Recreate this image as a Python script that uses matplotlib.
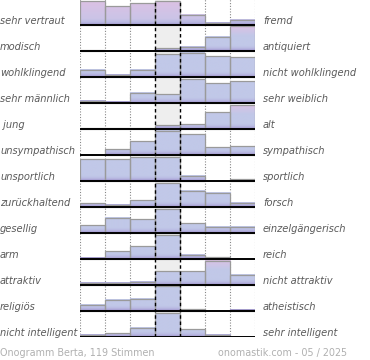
import numpy as np
import matplotlib
matplotlib.use("Agg")
import matplotlib.pyplot as plt
from matplotlib.colors import LinearSegmentedColormap
from matplotlib.patches import Rectangle

left_labels = ["sehr vertraut", "modisch", "wohlklingend", "sehr männlich", " jung",
               "unsympathisch", "unsportlich", "zurückhaltend", "gesellig", "arm",
               "attraktiv", "religiös", "nicht intelligent"]
right_labels = ["fremd", "antiquiert", "nicht wohlklingend", "sehr weiblich", "alt",
                "sympathisch", "sportlich", "forsch", "einzelgängerisch", "reich",
                "nicht attraktiv", "atheistisch", "sehr intelligent"]

# bar heights per row (percent of full row height), 7 columns each
row_vertraut = [96, 75, 87, 96, 41, 9, 21]
row_modisch = [4, 0, 0, 12, 17, 57, 99]
row_klang = [29, 9, 29, 91, 97, 84, 80]
row_geschlecht = [9, 5, 41, 36, 96, 79, 87]
row_alter = [2, 2, 2, 14, 20, 67, 96]
row_sympathie = [0, 23, 55, 97, 83, 31, 35]
row_sport = [88, 88, 96, 96, 22, 0, 8]
row_forsch = [15, 9, 27, 96, 65, 57, 17]
row_gesellig = [31, 61, 55, 96, 39, 25, 25]
row_reich = [5, 32, 51, 96, 17, 7, 0]
row_attraktiv = [9, 9, 13, 55, 56, 97, 41]
row_religion = [25, 45, 49, 100, 8, 0, 5]
row_intelligenz = [9, 15, 37, 95, 32, 9, 0]
rows = [row_vertraut, row_modisch, row_klang, row_geschlecht, row_alter,
        row_sympathie, row_sport, row_forsch, row_gesellig, row_reich,
        row_attraktiv, row_religion, row_intelligenz]

footer_left = "Onogramm Berta, 119 Stimmen"
footer_right = "onomastik.com - 05 / 2025"

# styling: gradient variants per row
purple = (155/255, 142/255, 200/255)
lowblue = (185/255, 185/255, 226/255)
blue = (193/255, 200/255, 232/255)
pink = (220/255, 193/255, 228/255)
cm_blue = LinearSegmentedColormap.from_list("b", [(0, purple), (0.1, lowblue), (0.2, blue), (1, blue)])
cm_pink = LinearSegmentedColormap.from_list("p", [(0, purple), (0.1, lowblue), (0.2, blue), (0.6, blue), (1, pink)])
cm_pinkall = LinearSegmentedColormap.from_list("pa", [(0, purple), (0.1, lowblue), (0.25, (203/255, 196/255, 231/255)), (1, pink)])
row_cmaps = [cm_pinkall, cm_pink, cm_blue, cm_blue, cm_pink, cm_blue, cm_blue,
             cm_blue, cm_blue, cm_blue, cm_pink, cm_blue, cm_blue]

W, H = 370, 360
fig = plt.figure(figsize=(W/100, H/100), dpi=100)
ax = fig.add_axes([80/W, 23/H, 175/W, 338/H])
n = len(rows)
ncol = 7
full = 25/26

# middle column background
ax.add_patch(Rectangle((3, 0), 1, n, facecolor="#eeeeee", edgecolor="none", zorder=0))
for x in [0, 1, 2, 5, 6, 7]:
    ax.axvline(x, color="#888888", lw=0.8, ls=(0, (1, 1.5)), zorder=1)

for i, vals in enumerate(rows):
    base = n - 1 - i
    cmap = row_cmaps[i]
    for j, v in enumerate(vals):
        h = v / 100 * full
        if h <= 0:
            continue
        frac = h / full
        grad = np.linspace(0, frac, 64).reshape(-1, 1)
        ax.imshow(grad, extent=(j, j + 1, base, base + h), origin="lower",
                  aspect="auto", cmap=cmap, vmin=0, vmax=1,
                  interpolation="bilinear", zorder=2)
        ax.add_patch(Rectangle((j, base), 1, h, fill=False, edgecolor="#9a9a9a",
                               lw=0.9, zorder=3))
    ax.plot([0, ncol], [base, base], color="black", lw=1.4, zorder=4,
            solid_capstyle="butt")

for x in [3, 4]:
    ax.axvline(x, color="black", lw=1.0, ls=(0, (2.5, 2)), zorder=5)

ax.set_xlim(0, ncol)
ax.set_ylim(0, n)
ax.axis("off")

for i in range(n):
    yb = 25 + 26 * i - 1.5
    fy = (H - yb) / H
    fig.text(0 / W, fy, left_labels[i], ha="left", va="baseline", fontsize=7.1,
             style="italic", color="#5a5a5a")
    fig.text(263 / W, fy, right_labels[i], ha="left", va="baseline", fontsize=7.1,
             style="italic", color="#5a5a5a")

fig.text(0, 4 / H, footer_left, ha="left", va="baseline", fontsize=6.9, color="#b0b0b0")
fig.text(347 / W, 4 / H, footer_right, ha="right", va="baseline", fontsize=6.9, color="#b0b0b0")

fig.savefig("out.png", dpi=100)
